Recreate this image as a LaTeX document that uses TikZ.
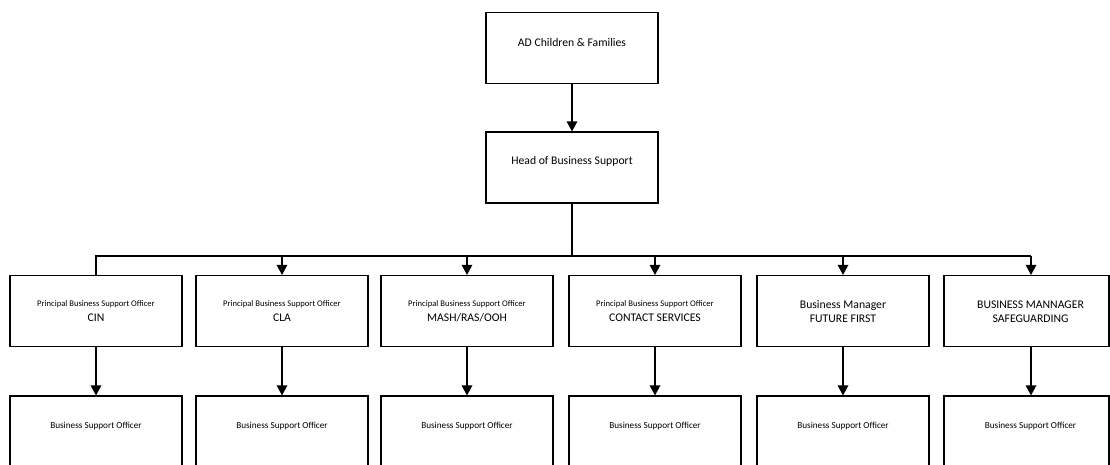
\documentclass[tikz,border=0pt]{standalone}
\usepackage{fontspec}
\setmainfont{Carlito}
\usetikzlibrary{arrows.meta}
\tikzset{
  box/.style={draw=black, line width=1.1pt, minimum width=172pt, minimum height=71pt, inner sep=0pt},
  big/.style={font=\fontsize{11.7}{14}\selectfont, inner sep=0pt},
  small/.style={font=\fontsize{8.6}{10}\selectfont, inner sep=0pt},
  bso/.style={font=\fontsize{9.2}{11}\selectfont, inner sep=0pt},
  conn/.style={draw=black, line width=1.3pt},
  arr/.style={conn, -{Triangle[width=10.5pt,length=10pt]}}
}
\begin{document}
\begin{tikzpicture}[x=1pt,y=-1pt]
\useasboundingbox (0,0) rectangle (1110,464);
\clip (0,0) rectangle (1110,464);
% top
\node[box] (ad) at (572,48) {};
\node[big] (tad) at ([yshift=6pt]ad.center) {AD Children \& Families};
\node[box] (hb) at (572,167.5) {};
\node[big] (thb) at ([yshift=6pt]hb.center) {Head of Business Support};
% second row
\node[box] (p1) at (96,311) {};
\node[box] (p2) at (282,311) {};
\node[box] (p3) at (467,311) {};
\node[box] (p4) at (655,311) {};
\node[box] (p5) at (843,311) {};
\node[box, minimum width=165pt] (p6) at (1026.5,311) {};
\node[align=center, inner sep=0pt] (tp1) at ([yshift=-0.5pt]p1.center) {{\fontsize{8.6}{10}\selectfont Principal Business Support Officer}\\[3pt]{\fontsize{11.7}{14}\selectfont CIN}};
\node[align=center, inner sep=0pt] (tp2) at ([yshift=-0.5pt]p2.center) {{\fontsize{8.6}{10}\selectfont Principal Business Support Officer}\\[3pt]{\fontsize{11.7}{14}\selectfont CLA}};
\node[align=center, inner sep=0pt] (tp3) at ([yshift=-0.5pt]p3.center) {{\fontsize{8.6}{10}\selectfont Principal Business Support Officer}\\[3pt]{\fontsize{11.7}{14}\selectfont MASH/RAS/OOH}};
\node[align=center, inner sep=0pt] (tp4) at ([yshift=-0.5pt]p4.center) {{\fontsize{8.6}{10}\selectfont Principal Business Support Officer}\\[3pt]{\fontsize{11.7}{14}\selectfont CONTACT SERVICES}};
\node[align=center, inner sep=0pt, font=\fontsize{11.7}{14}\selectfont] (tp5) at ([yshift=-1pt]p5.center) {Business Manager\\FUTURE FIRST};
\node[align=center, inner sep=0pt, font=\fontsize{11.7}{14}\selectfont] (tp6) at ([xshift=4pt,yshift=-1pt]p6.center) {BUSINESS MANNAGER\\SAFEGUARDING};
% third row
\node[box] (s1) at (96,431.5) {};
\node[box] (s2) at (282,431.5) {};
\node[box] (s3) at (467,431.5) {};
\node[box] (s4) at (655,431.5) {};
\node[box] (s5) at (843,431.5) {};
\node[box, minimum width=165pt] (s6) at (1026.5,431.5) {};
\foreach \i in {1,...,5}{
  \node[bso] (ts\i) at ([yshift=5.5pt]s\i.center) {Business Support Officer};
}
\node[bso] (ts6) at ([xshift=4pt,yshift=5.5pt]s6.center) {Business Support Officer};
% connectors
\coordinate (busy) at (0,256);
\coordinate (bj) at (hb.south |- busy);
\draw[arr] (ad) -- (hb);
\draw[conn] (hb.south) -- (bj);
\coordinate (b1) at (p1.north |- busy);
\coordinate (b6) at ([xshift=4.5pt]p6.north |- busy);
\draw[conn] (p1.north) -- (b1) -- (b6);
\foreach \i in {2,...,5}{
  \draw[arr] (p\i.north |- busy) -- (p\i.north);
}
\draw[arr] (b6) -- ([xshift=4.5pt]p6.north);
\foreach \i in {1,...,5}{
  \draw[arr] (p\i) -- (s\i);
}
\draw[arr] ([xshift=4.5pt]p6.south) -- ([xshift=4.5pt]s6.north);
\end{tikzpicture}
\end{document}
